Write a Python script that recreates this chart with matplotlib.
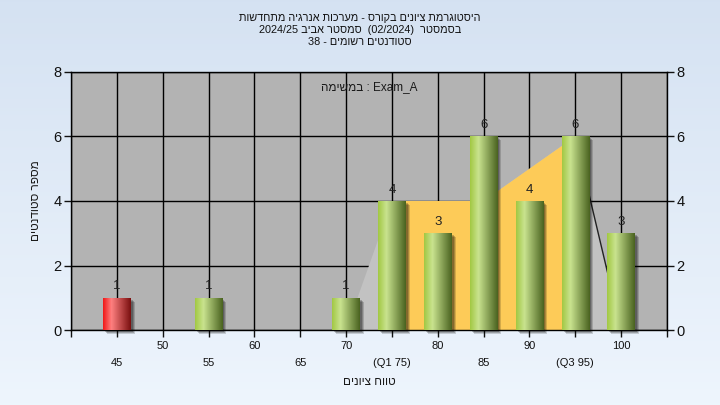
import numpy as np
import matplotlib
matplotlib.use("Agg")
import matplotlib.pyplot as plt
from matplotlib.patches import Rectangle, Polygon
from matplotlib import transforms

plt.rcParams['font.family'] = ['Liberation Sans', 'DejaVu Sans']

# ---- data ----
grades = [45, 50, 55, 60, 65, 70, 75, 80, 85, 90, 95, 100]
counts = [1, 0, 1, 0, 0, 1, 4, 3, 6, 4, 6, 3]
fail_grades = [45]
upper_ticks = [50, 60, 70, 80, 90, 100]
upper_labels = ['50', '60', '70', '80', '90', '100']
lower_ticks = [45, 55, 65, 75, 85, 95]
lower_labels = ['45', '55', '65', '(Q1 75)', '85', '(Q3 95)']
dist_x = [70, 75, 85, 95, 100]
dist_y = [0, 4, 4, 6, 0]
iqr_x = [75, 75, 85, 95, 95]
iqr_y = [0, 4, 4, 6, 0]

# visual (left-to-right) forms of the RTL texts
title_lines = ['תושדחתמ היגרנא תוכרעמ - סרוקב םינויצ תמרגוטסיה',
               '2024/25 ביבא רטסמס  (02/2024)  רטסמסב',
               '38 - םימושר םיטנדוטס']
subtitle = 'המישמב : Exam_A'
xlabel = 'םינויצ חווט'
ylabel = 'םיטנדוטס רפסמ'

W, H = 720, 405
fig = plt.figure(figsize=(7.2, 4.05), dpi=100)

# background gradient
bg = fig.add_axes([0, 0, 1, 1], zorder=-10)
grad = np.linspace(0, 1, 256)[:, None]
top = np.array([0.835, 0.886, 0.949])
bot = np.array([0.933, 0.961, 0.992])
img = top[None, None, :] * (1 - grad[:, :, None]) + bot[None, None, :] * grad[:, :, None]
bg.imshow(img, aspect='auto', extent=[0, 1, 0, 1])
bg.axis('off')

ax = fig.add_axes([71 / W, 1 - 330 / H, (667 - 71) / W, (330 - 72) / H])
ax.set_facecolor('#b3b3b3')
ax.set_xlim(40, 105)
ax.set_ylim(0, 8)

# grid
ax.set_xticks([40] + upper_ticks + [105])
ax.set_xticklabels([''] + upper_labels + [''])
ax.set_xticks(lower_ticks, minor=True)
ax.set_xticklabels(lower_labels, minor=True)
ax.set_yticks([0, 2, 4, 6, 8])
ax.grid(True, which='both', color='black', linewidth=1.0, zorder=0)
ax.set_axisbelow(True)
ax.tick_params(axis='x', which='major', length=5, width=1, pad=3, labelsize=8, colors='#111111')
ax.tick_params(axis='x', which='minor', length=5, width=1, pad=15, labelsize=8, colors='#111111')
ax.tick_params(axis='y', length=5, width=1, pad=2, labelsize=10.5, colors='#111111',
               right=True, labelright=True)
for s in ax.spines.values():
    s.set_color('black')
    s.set_linewidth(1.0)

# areas
ax.add_patch(Polygon(np.column_stack([dist_x, dist_y]), closed=True,
                     facecolor='#c2c2c2', edgecolor='none', zorder=1))
ax.plot(dist_x[-2:], dist_y[-2:], color='#222222', lw=1.0, zorder=1.5)
ax.add_patch(Polygon(np.column_stack([iqr_x, iqr_y]), closed=True,
                     facecolor='#fdcb58', edgecolor='none', zorder=2))

# bars with cylinder gradient
def cyl(c_left, c_hi, c_right):
    t = np.linspace(0, 1, 64)
    cl, ch, cr = (np.array(matplotlib.colors.to_rgb(c)) for c in (c_left, c_hi, c_right))
    out = np.zeros((1, 64, 3))
    for i, v in enumerate(t):
        if v < 0.3:
            f = v / 0.3
            out[0, i] = cl * (1 - f) + ch * f
        else:
            f = (v - 0.3) / 0.7
            out[0, i] = ch * (1 - f) + cr * f
    return out

green = cyl('#a2c844', '#c9e38f', '#4a6320')
red = cyl('#f01818', '#ff8080', '#7a0f0f')
bw = 3.0
for g, c in zip(grades, counts):
    if c <= 0:
        continue
    x0 = g - bw / 2
    # shadow
    for k, a in zip([2.0, 3.0, 4.0], [0.22, 0.2, 0.16]):
        tr = transforms.offset_copy(ax.transData, fig=fig, x=k, y=-k, units='dots')
        ax.add_patch(Rectangle((x0, 0), bw, c, transform=tr, facecolor='black',
                               alpha=a, edgecolor='none', zorder=3, clip_on=False))
    rect = Rectangle((x0, 0), bw, c, facecolor='none', edgecolor='none', zorder=4)
    ax.add_patch(rect)
    im = ax.imshow(red if g in fail_grades else green, aspect='auto',
                   extent=[x0, x0 + bw, 0, c], zorder=4, interpolation='bilinear')
    im.set_clip_path(rect)
    ax.text(g, c + 0.17, str(c), ha='center', va='bottom', fontsize=9.5, color='#222222', zorder=6)

ax.set_xlim(40, 105)
ax.set_ylim(0, 8)

ax.text(0.5, 0.94, subtitle, transform=ax.transAxes, ha='center', va='center',
        fontsize=8.5, color='#1a1a1a', zorder=6)

ax.set_xlabel(xlabel, fontsize=8.5, color='#1a1a1a', labelpad=6)
ax.set_ylabel(ylabel, fontsize=8.5, color='#1a1a1a', labelpad=8)

fig.text(0.5, 1 - 13 / H, '\n'.join(title_lines), ha='center', va='top',
         fontsize=7.8, color='#111111', linespacing=1.25)

fig.savefig('out.png', dpi=100)
